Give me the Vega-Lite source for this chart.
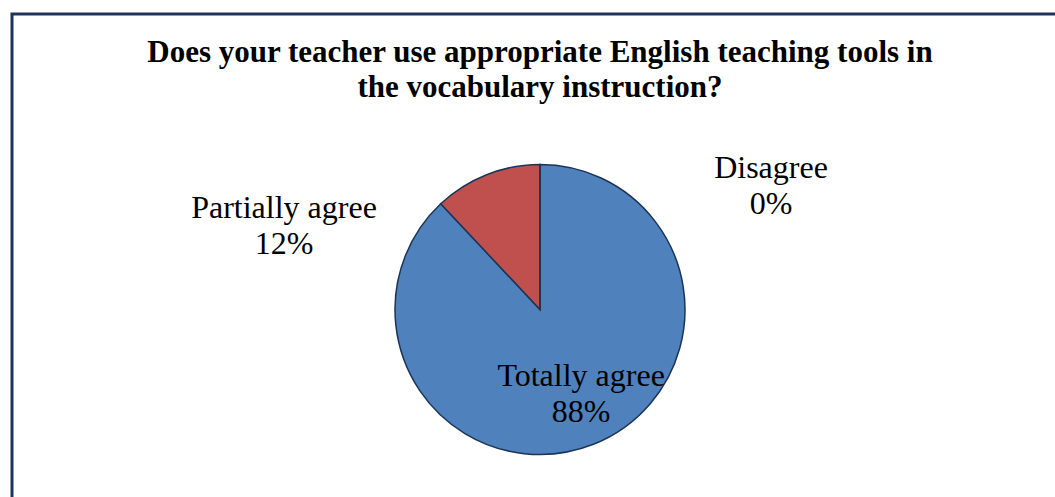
{
  "$schema": "https://vega.github.io/schema/vega-lite/v6.json",
  "autosize": {"type": "none"},
  "padding": {"left": 12, "top": 14, "right": 0, "bottom": 0},
  "width": 1056,
  "height": 591,
  "background": "white",
  "view": {"stroke": "#1c3557", "strokeWidth": 3, "fill": "white"},
  "config": {"view": {"stroke": "#1c3557", "strokeWidth": 3}},
  "title": {
    "text": ["Does your teacher use appropriate English teaching tools in", "the vocabulary instruction?"],
    "font": "Liberation Serif",
    "fontSize": 31,
    "fontWeight": "bold",
    "color": "black",
    "anchor": "middle",
    "frame": "group",
    "baseline": "top",
    "offset": -90,
    "lineHeight": 35
  },
  "data": {
    "values": [
      {"category": "Totally agree", "value": 88},
      {"category": "Partially agree", "value": 12},
      {"category": "Disagree", "value": 0}
    ]
  },
  "transform": [
    {"calculate": "datum.category + '\\n' + datum.value + '%'", "as": "label"}
  ],
  "encoding": {
    "theta": {"field": "value", "type": "quantitative", "stack": true},
    "order": {"field": "value", "type": "quantitative", "sort": "descending"}
  },
  "layer": [
    {
      "mark": {"type": "arc", "outerRadius": 145, "stroke": "#1c3557", "strokeWidth": 1.5},
      "encoding": {
        "color": {
          "field": "category",
          "type": "nominal",
          "scale": {"domain": ["Totally agree", "Partially agree", "Disagree"], "range": ["#4f81bd", "#c0504d", "#9bbb59"]},
          "legend": null
        }
      }
    },
    {
      "mark": {"type": "text", "radius": 71, "dx": 15, "font": "Liberation Serif", "fontSize": 32, "lineBreak": "\n", "lineHeight": 36, "baseline": "middle", "align": "center", "color": "black"},
      "encoding": {
        "text": {"condition": {"test": "datum.category === 'Totally agree'", "field": "label", "type": "nominal"}, "value": ""}
      }
    },
    {
      "mark": {"type": "text", "radius": 0, "dx": -256, "dy": -102, "font": "Liberation Serif", "fontSize": 32, "lineBreak": "\n", "lineHeight": 36, "baseline": "middle", "align": "center", "color": "black"},
      "encoding": {
        "text": {"condition": {"test": "datum.category === 'Partially agree'", "field": "label", "type": "nominal"}, "value": ""}
      }
    },
    {
      "mark": {"type": "text", "radius": 142, "dx": 231, "font": "Liberation Serif", "fontSize": 32, "lineBreak": "\n", "lineHeight": 36, "baseline": "middle", "align": "center", "color": "black"},
      "encoding": {
        "text": {"condition": {"test": "datum.category === 'Disagree'", "field": "label", "type": "nominal"}, "value": ""}
      }
    }
  ]
}
